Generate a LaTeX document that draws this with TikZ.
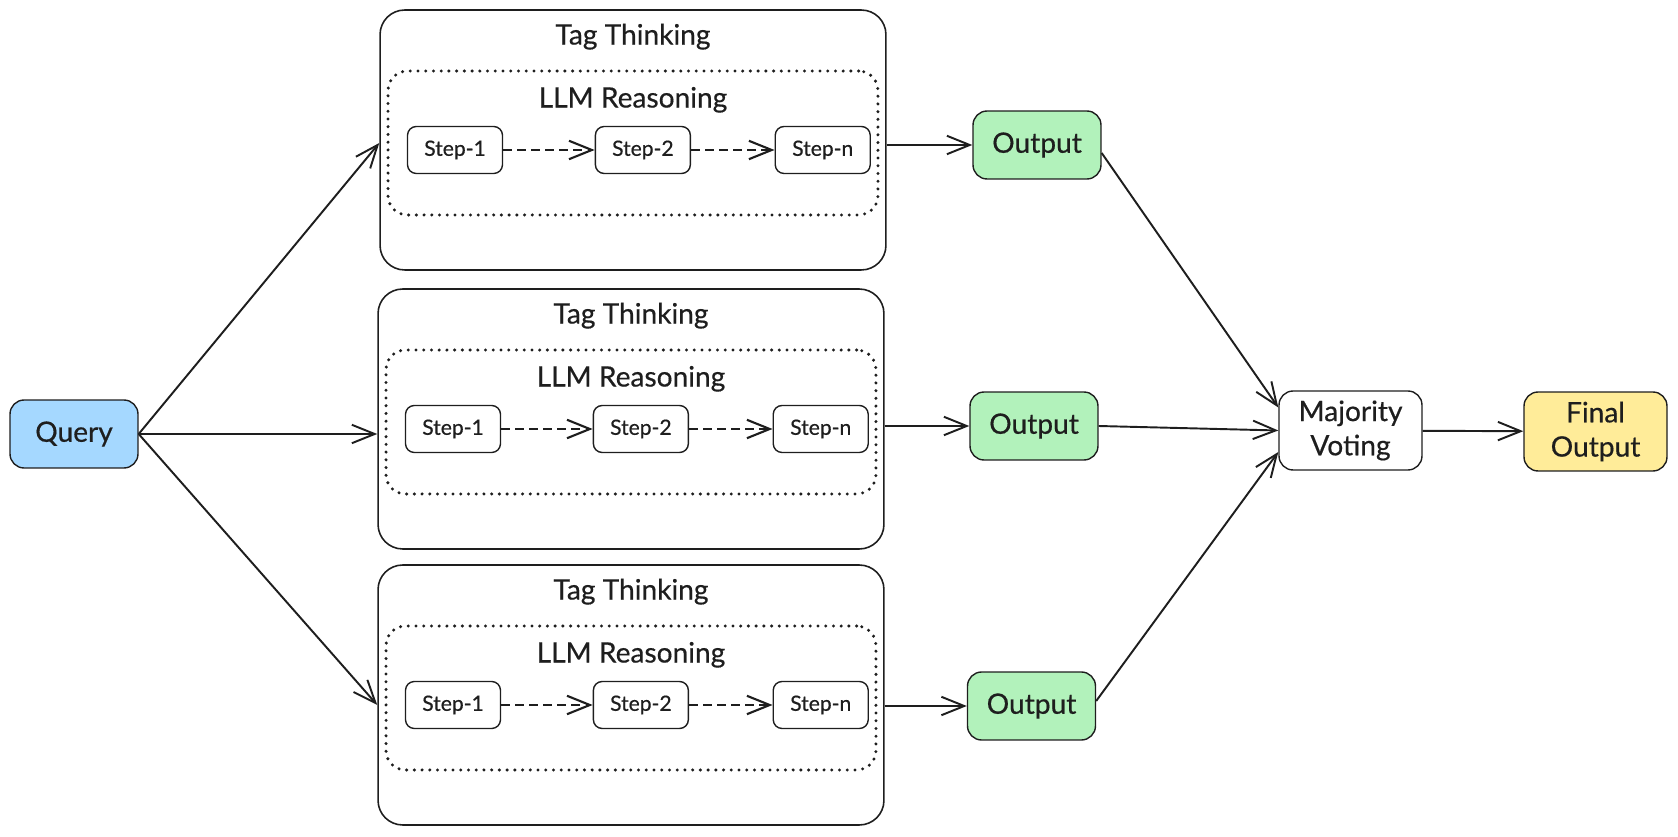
\documentclass[tikz,border=0pt]{standalone}
\usepackage{fontspec}
\setmainfont{Lato}[FakeBold=0.5]
\usetikzlibrary{arrows.meta,positioning}
\definecolor{ink}{HTML}{1E1E1E}
\definecolor{qblue}{HTML}{A5D8FF}
\definecolor{outgreen}{HTML}{B2F2BB}
\definecolor{finyellow}{HTML}{FFEC99}

\begin{document}
\begin{tikzpicture}[x=0.02cm, y=-0.02cm, line join=round,
        every node/.style={font=\fontsize{16}{19.5}\selectfont, text=ink},
        tagbox/.style={draw=ink, line width=0.9pt, rounded corners=14pt,
          minimum width=10.12cm, minimum height=5.2cm, inner sep=0pt},
        llmbox/.style={draw=ink, line width=1.9pt, line cap=round, dash pattern=on 0pt off 4.4pt,
          rounded corners=11pt, minimum width=9.8cm, minimum height=2.88cm, inner sep=0pt},
        stepbox/.style={draw=ink, line width=0.8pt, rounded corners=5pt, fill=white,
          minimum width=1.9cm, minimum height=0.94cm, inner sep=0pt, font=\fontsize{12}{14}\selectfont},
        outbox/.style={draw=ink, line width=0.8pt, rounded corners=8pt,
          minimum width=2.56cm, minimum height=1.36cm, inner sep=0pt, align=center},
        arr/.style={draw=ink, line width=1.1pt, -{Straight Barb[length=13pt,width=10.5pt]}},
        darr/.style={arr, line width=1.2pt, dash pattern=on 5pt off 3pt}
      ]
        % Rahmen
        \useasboundingbox (0,0) rectangle (1678,837);

        % Eingabe
        \node[outbox, fill=qblue] (query) at (74,434) {Query};

        % drei Zweige: Tag Thinking / LLM Reasoning / Schritte
        \foreach \i/\x/\y in {1/633/140, 2/631/419, 3/631/695} {%
          \node[tagbox] (t\i) at (\x,\y) {};
          \node (tt\i) at ([yshift=-0.55cm]t\i.north) {Tag Thinking};
          \node[llmbox] (l\i) at (\x,\y+3) {};
          \node (lt\i) at ([yshift=-0.61cm]l\i.north) {LLM Reasoning};
          \node[stepbox] (s\i1) at (\x-178,\y+10) {Step-1};
          \node[stepbox, right=1.83cm of s\i1] (s\i2) {Step-2};
          \node[stepbox, right=1.67cm of s\i2] (s\i3) {Step-n};
          \draw[darr] (s\i1) -- (s\i2);
          \draw[darr] (s\i2) -- (s\i3);
        }

        % Ausgaben
        \node[outbox, fill=outgreen] (o1) at (1037,145) {Output};
        \node[outbox, fill=outgreen] (o2) at (1034,426) {Output};
        \node[outbox, fill=outgreen] (o3) at (1031.5,706) {Output};

        % Abstimmung + Ergebnis
        \node[outbox, minimum width=2.86cm, minimum height=1.58cm] (maj) at (1350.5,430.5) {Majority\\Voting};
        \node[outbox, fill=finyellow, minimum width=2.86cm, minimum height=1.58cm] (final) at (1595.5,431.5) {Final\\Output};

        % Verbindungen
        \draw[arr] (query.east) -- (t1.west |- l1);
        \draw[arr] (query.east) -- (t2.west |- query.east);
        \draw[arr] (query.east) -- (t3.west |- s31);

        \draw[arr] (t1.east |- o1.west) -- (o1.west);
        \draw[arr] (t2.east |- o2.west) -- (o2.west);
        \draw[arr] (t3.east |- o3.west) -- (o3.west);

        \draw[arr] ([yshift=-0.16cm]o1.east) -- ([yshift=0.46cm]maj.west);
        \draw[arr] (o2.east) -- (maj.west);
        \draw[arr] ([yshift=0.1cm]o3.east) -- ([yshift=-0.43cm]maj.west);
        \draw[arr] (maj) -- (final);
      \end{tikzpicture}
\end{document}
